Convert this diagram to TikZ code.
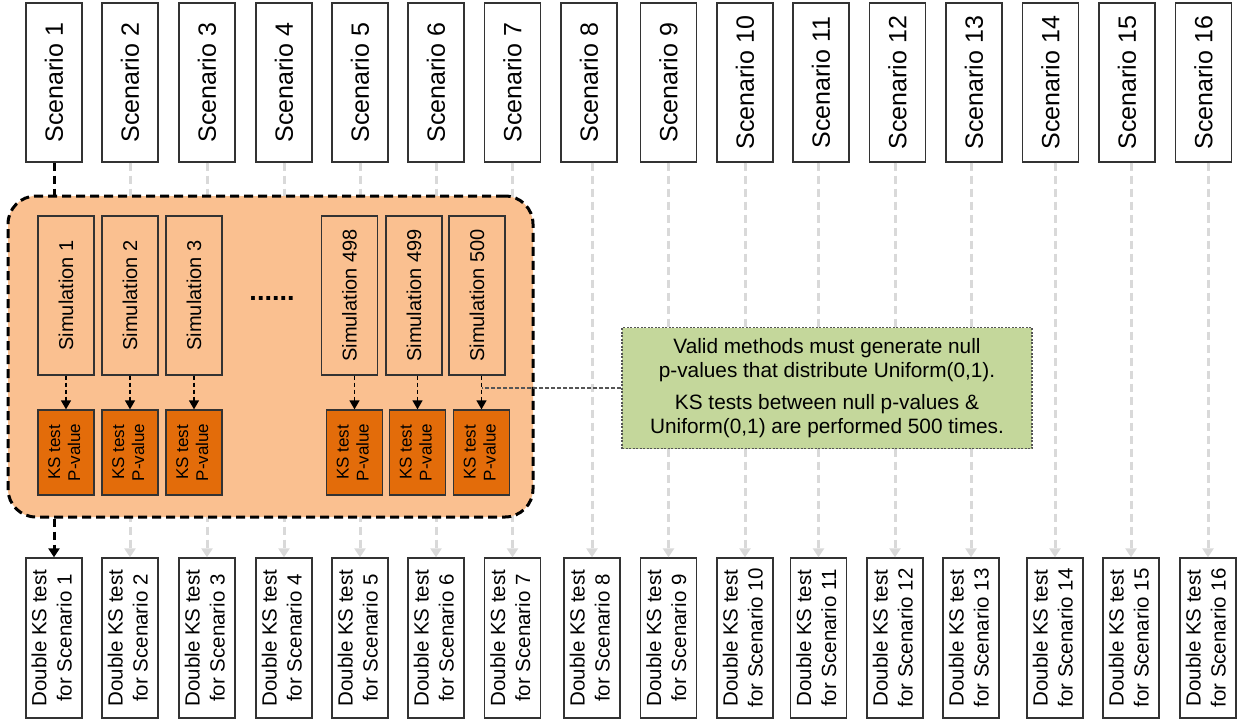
\documentclass[tikz,border=0pt]{standalone}
\usepackage{fontspec}
\setmainfont{Liberation Sans}
\usepackage{graphicx}
\usetikzlibrary{arrows.meta}
\definecolor{kso}{HTML}{E36C0A}
\definecolor{conto}{HTML}{FAC090}
\definecolor{grn}{HTML}{C4D79B}
\definecolor{lgray}{HTML}{D9D9D9}
\definecolor{bord}{HTML}{333333}
\definecolor{dgray}{HTML}{555555}
\newcommand{\rlab}[1]{\rotatebox{90}{\begin{tabular}{@{}c@{}}#1\end{tabular}}}
\begin{document}
\begin{tikzpicture}[x=1pt,y=-1pt,
  topbox/.style={draw=bord, line width=1.3pt, fill=white, minimum width=56pt, minimum height=159pt, inner sep=0pt, font=\fontsize{25}{30}\selectfont},
  botbox/.style={draw=bord, line width=1.3pt, fill=white, minimum width=56pt, minimum height=160pt, inner sep=0pt, font=\fontsize{20.5}{25}\selectfont},
  simbox/.style={draw=bord, line width=1.3pt, fill=conto, minimum width=56pt, minimum height=159pt, inner sep=0pt, font=\fontsize{20}{24}\selectfont},
  ksbox/.style={draw=bord, line width=1.3pt, fill=kso, minimum width=56pt, minimum height=85pt, inner sep=0pt, font=\fontsize{17}{20}\selectfont},
  container/.style={draw=black, fill=conto, line width=3pt, dash pattern=on 9pt off 5pt, rounded corners=28pt, minimum width=525pt, minimum height=321pt, inner sep=0pt},
  greenbox/.style={draw=dgray, fill=grn, line width=1.2pt, dash pattern=on 2pt off 1.5pt, minimum width=410pt, minimum height=121pt, inner sep=0pt, align=center, font=\fontsize{20.8}{24}\selectfont},
  grayline/.style={draw=lgray, line width=3pt, dash pattern=on 8pt off 5pt, -{Triangle[width=11pt,length=9pt]}},
  blackline/.style={draw=black, line width=3pt, dash pattern=on 8pt off 5pt},
  simarrow/.style={draw=black, line width=1.4pt, dash pattern=on 4pt off 3pt, -{Triangle[width=10pt,length=9pt]}},
  greenline/.style={draw=dgray, line width=1.5pt, dash pattern=on 4pt off 2pt}
]
\useasboundingbox (0,0) rectangle (1239,721);
\foreach \i/\tx/\bx in {1/54/54,2/130/130,3/207/207,4/284/284,5/360/360,6/436/436,7/512.5/512.5,8/589/592,9/668.5/668.5,10/745/745,11/821/818.5,12/897.5/895,13/974/971,14/1050.5/1055,15/1127/1131,16/1203.5/1208}{
  \node[topbox] (t\i) at (\tx,82.5) {\rotatebox{90}{Scenario \i}};
  \node[botbox] (b\i) at (\bx,638) {\rlab{Double KS test\\for Scenario \i}};
}
\foreach \i in {2,...,16}{
  \draw[grayline] (t\i.south -| b\i.north) -- (b\i.north);
}
\node[container] (cont) at (270.5,356.5) {};
\draw[blackline] (t1.south) -- (t1.south |- cont.north);
\draw[blackline,-{Triangle[width=11pt,length=9pt]}] (b1.north |- cont.south) -- (b1.north);
\foreach \n/\sx/\kx in {1/66/66,2/130/130,3/194/194,498/349.5/354.5,499/414/417.5,500/477/481.5}{
  \node[simbox] (s\n) at (\sx,295.5) {\rotatebox{90}{Simulation \n}};
  \node[ksbox] (k\n) at (\kx,452.5) {\rlab{KS test\\P-value}};
  \draw[simarrow] (s\n.south -| k\n.north) -- (k\n.north);
}
\node[anchor=base, font=\fontsize{27}{27}\selectfont\bfseries] (dots) at (272,300) {......};
\node[greenbox] (green) at (827,388) {Valid methods must generate null\\p-values that distribute Uniform(0,1).\\[8pt]KS tests between null p-values \&\\Uniform(0,1) are performed 500 times.};
\draw[greenline] (green.west) -- (green.west -| k500.north);
\end{tikzpicture}
\end{document}
